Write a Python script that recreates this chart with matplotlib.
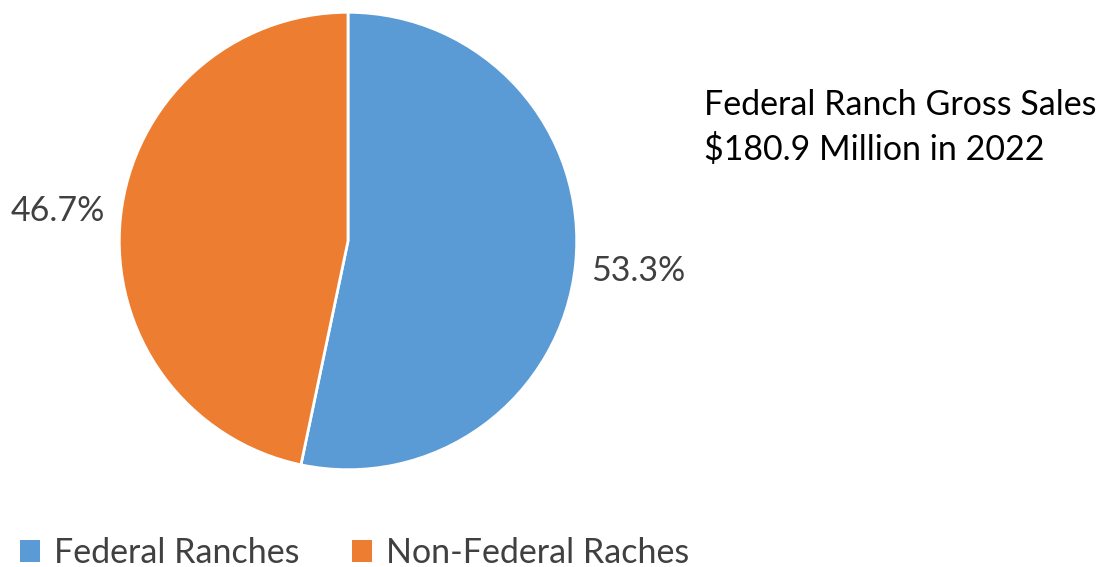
import matplotlib.pyplot as plt
from matplotlib.patches import Patch

# values
labels = ['Federal Ranches', 'Non-Federal Raches']
shares = [53.3, 46.7]
colors = ['#5B9BD5', '#ED7D31']
title_lines = ['Federal Ranch Gross Sales', '$180.9 Million in 2022']

plt.rcParams['font.family'] = ['Lato', 'DejaVu Sans']
text_color = '#404040'
fs = 24.5

fig = plt.figure(figsize=(11, 5.67), dpi=100)
# circle centre ~ (348, 241) px, radius ~229 px
ax = fig.add_axes([(348 - 231) / 1100, (567 - 472) / 567, 462 / 1100, 462 / 567])

wedges, _, pcts = ax.pie(shares, colors=colors, startangle=90, counterclock=False,
                         autopct='%.1f%%', pctdistance=1.275,
                         wedgeprops=dict(edgecolor='white', linewidth=2),
                         textprops=dict(color=text_color, fontsize=fs))
ax.set_aspect('equal')
ax.set_xlim(-1.01, 1.01)
ax.set_ylim(-1.01, 1.01)

fig.text(704 / 1100, 1 - 105 / 567, title_lines[0], fontsize=fs, color='black', va='center')
fig.text(704 / 1100, 1 - 150 / 567, title_lines[1], fontsize=fs, color='black', va='center')

handles = [Patch(facecolor=c, edgecolor='none') for c in colors]
fig.legend(handles, labels, loc='center left', bbox_to_anchor=(-11 / 1100, 1 - 553 / 567),
           ncol=2, frameon=False, fontsize=fs, labelcolor=text_color,
           handlelength=0.6, handleheight=0.6, handletextpad=0.4, columnspacing=1.55)

fig.savefig('out.png', dpi=100)
